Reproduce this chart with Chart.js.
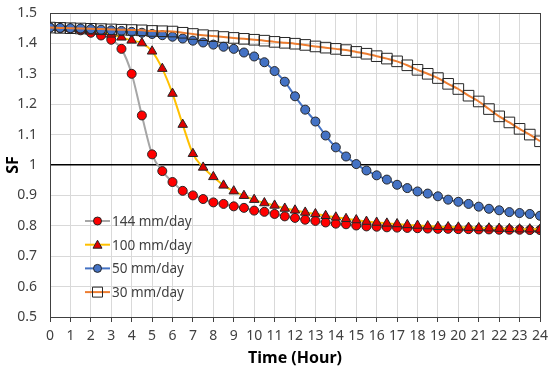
<!DOCTYPE html>
<html>
<head>
<meta charset="utf-8">
<script src="https://cdn.jsdelivr.net/npm/chart.js@4"></script>
<style>
  html, body { margin: 0; padding: 0; background: #fff; }
  #wrap { width: 550px; height: 372px; }
</style>
</head>
<body>
<div id="wrap"><canvas id="sfChart" width="550" height="372"></canvas></div>
<script>
// time axis (hours), one point every half hour
const hours = [0, 0.5, 1, 1.5, 2, 2.5, 3, 3.5, 4, 4.5, 5, 5.5, 6, 6.5, 7, 7.5, 8, 8.5, 9, 9.5,
  10, 10.5, 11, 11.5, 12, 12.5, 13, 13.5, 14, 14.5, 15, 15.5, 16, 16.5, 17, 17.5, 18, 18.5,
  19, 19.5, 20, 20.5, 21, 21.5, 22, 22.5, 23, 23.5, 24];

const sf144 = [1.452, 1.450, 1.448, 1.443, 1.435, 1.426, 1.412, 1.382, 1.300, 1.163, 1.035, 0.980,
  0.944, 0.915, 0.900, 0.888, 0.877, 0.872, 0.864, 0.859, 0.850, 0.846, 0.839, 0.831, 0.826,
  0.820, 0.816, 0.811, 0.807, 0.805, 0.801, 0.798, 0.797, 0.795, 0.794, 0.793, 0.792, 0.791,
  0.790, 0.790, 0.789, 0.789, 0.788, 0.788, 0.787, 0.787, 0.787, 0.786, 0.786];

const sf100 = [1.452, 1.451, 1.449, 1.447, 1.444, 1.438, 1.430, 1.420, 1.410, 1.401, 1.374, 1.317,
  1.235, 1.133, 1.037, 0.992, 0.961, 0.933, 0.914, 0.899, 0.886, 0.875, 0.867, 0.857, 0.851,
  0.844, 0.839, 0.833, 0.828, 0.823, 0.819, 0.814, 0.811, 0.808, 0.806, 0.803, 0.801, 0.799,
  0.797, 0.796, 0.795, 0.794, 0.793, 0.792, 0.791, 0.790, 0.789, 0.789, 0.788];

const sf50 = [1.452, 1.451, 1.450, 1.449, 1.447, 1.445, 1.443, 1.441, 1.438, 1.435, 1.431, 1.427,
  1.422, 1.416, 1.409, 1.403, 1.396, 1.389, 1.382, 1.370, 1.357, 1.338, 1.309, 1.274, 1.226,
  1.182, 1.143, 1.097, 1.058, 1.028, 1.003, 0.982, 0.966, 0.952, 0.935, 0.924, 0.913, 0.906,
  0.897, 0.886, 0.879, 0.872, 0.863, 0.856, 0.851, 0.845, 0.842, 0.839, 0.833];

const sf30 = [1.452, 1.451, 1.450, 1.449, 1.448, 1.447, 1.446, 1.445, 1.444, 1.443, 1.441, 1.440,
  1.439, 1.435, 1.431, 1.427, 1.424, 1.421, 1.418, 1.415, 1.412, 1.409, 1.405, 1.402, 1.399,
  1.395, 1.390, 1.386, 1.382, 1.378, 1.372, 1.366, 1.358, 1.350, 1.341, 1.328, 1.313, 1.300,
  1.286, 1.267, 1.250, 1.228, 1.209, 1.184, 1.160, 1.140, 1.119, 1.100, 1.078];

const seriesNames = ["144 mm/day", "100 mm/day", "50 mm/day", "30 mm/day"];
const xTicks = [0, 24];
const yTicks = [0.5, 1.5];

const toPts = vals => vals.map((v, i) => ({ x: hours[i], y: v }));

// legend drawn inside the plot, like the Excel original
const insideLegend = {
  id: "insideLegend",
  afterDraw(chart) {
    const ctx = chart.ctx;
    const area = chart.chartArea;
    const x0 = area.left + 35;
    let y = area.top + 208;
    ctx.save();
    chart.data.datasets.forEach(ds => {
      ctx.strokeStyle = ds.borderColor;
      ctx.lineWidth = 2;
      ctx.beginPath();
      ctx.moveTo(x0, y);
      ctx.lineTo(x0 + 25, y);
      ctx.stroke();
      const cx = x0 + 12.5;
      ctx.fillStyle = ds.pointBackgroundColor;
      ctx.strokeStyle = ds.pointBorderColor;
      ctx.lineWidth = 1;
      ctx.beginPath();
      if (ds.pointStyle === "circle") {
        ctx.arc(cx, y, 4, 0, Math.PI * 2);
      } else if (ds.pointStyle === "triangle") {
        ctx.moveTo(cx, y - 4.5);
        ctx.lineTo(cx + 4.5, y + 3.5);
        ctx.lineTo(cx - 4.5, y + 3.5);
        ctx.closePath();
      } else {
        ctx.rect(cx - 5, y - 5, 10, 10);
      }
      ctx.fill();
      ctx.stroke();
      ctx.fillStyle = "#404040";
      ctx.font = "13.5px 'Noto Sans', sans-serif";
      ctx.textBaseline = "middle";
      ctx.textAlign = "left";
      ctx.fillText(ds.label, x0 + 27, y + 1);
      y += 23.7;
    });
    ctx.restore();
  }
};

const ctx = document.getElementById("sfChart").getContext("2d");
const sfChart = new Chart(ctx, {
  type: "line",
  data: {
    datasets: [
      {
        label: seriesNames[0],
        data: toPts(sf144),
        borderColor: "#a6a6a6",
        pointBackgroundColor: "#ff0000",
        pointBorderColor: "#262626",
        pointStyle: "circle",
        pointRadius: 4.5,
        order: 3,
      },
      {
        label: seriesNames[1],
        data: toPts(sf100),
        borderColor: "#ffc000",
        pointBackgroundColor: "#e00000",
        pointBorderColor: "#262626",
        pointStyle: "triangle",
        pointRadius: 5.5,
        order: 2,
      },
      {
        label: seriesNames[2],
        data: toPts(sf50),
        borderColor: "#4472c4",
        pointBackgroundColor: "#4472c4",
        pointBorderColor: "#262626",
        pointStyle: "circle",
        pointRadius: 4.5,
        order: 1,
      },
      {
        label: seriesNames[3],
        data: toPts(sf30),
        borderColor: "#ed7d31",
        pointBackgroundColor: "rgba(255,255,255,0)",
        pointBorderColor: "#262626",
        pointStyle: "rect",
        pointRadius: 7.5,
        order: 0,
      },
    ],
  },
  options: {
    responsive: false,
    animation: false,
    layout: { padding: { top: 13, right: 10, left: 0, bottom: 0 } },
    elements: {
      line: { borderWidth: 2, cubicInterpolationMode: "monotone" },
      point: { borderWidth: 1, hoverRadius: 4 },
    },
    plugins: {
      legend: { display: false },
      tooltip: { enabled: false },
    },
    scales: {
      x: {
        type: "linear",
        min: xTicks[0],
        max: xTicks[1],
        afterFit: s => { s.height = 55; s.paddingLeft = 0; s.paddingRight = 8; },
        ticks: {
          stepSize: 1,
          color: "#404040",
          font: { family: "'Noto Sans', sans-serif", size: 14 },
          padding: 6,
          maxRotation: 0,
        },
        grid: {
          color: c => (c.tick && c.tick.value === xTicks[1]) ? "#404040" : "#d9d9d9",
          tickColor: "#404040",
          tickLength: 5,
          lineWidth: 1,
        },
        border: { color: "#404040", width: 1 },
        title: {
          display: true,
          text: "Time (Hour)",
          color: "#000",
          font: { family: "'Noto Sans', sans-serif", size: 16, weight: "bold" },
          padding: { top: 0 },
        },
      },
      y: {
        min: yTicks[0],
        max: yTicks[1],
        afterFit: s => { s.width = 50; s.paddingTop = 8; s.paddingBottom = 8; },
        ticks: {
          stepSize: 0.1,
          color: "#404040",
          font: { family: "'Noto Sans', sans-serif", size: 14 },
          padding: 13,
          callback: v => Math.round(v * 10) / 10,
        },
        grid: {
          drawTicks: false,
          color: c => {
            const v = Math.round(c.tick.value * 10) / 10;
            if (v === 1) return "#000";
            if (v === yTicks[1]) return "#404040";
            return "#d9d9d9";
          },
          lineWidth: c => (Math.round(c.tick.value * 10) / 10 === 1 ? 1.5 : 1),
        },
        border: { color: "#404040", width: 1 },
        title: {
          display: true,
          text: "SF",
          color: "#000",
          font: { family: "'Noto Sans', sans-serif", size: 16, weight: "bold" },
          padding: { bottom: 0 },
        },
      },
    },
  },
  plugins: [insideLegend],
});
</script>
</body>
</html>
